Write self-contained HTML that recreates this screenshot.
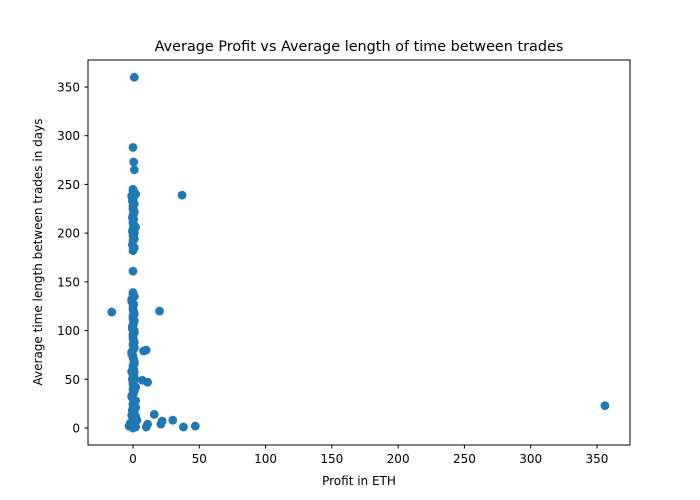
<!DOCTYPE html>
<html><head><meta charset="utf-8">
<style>
body{margin:0;background:#fff;}
svg{display:block;font-family:"DejaVu Sans","Liberation Sans",sans-serif;}
</style></head>
<body>
<svg id="chart" width="700" height="500" viewBox="0 0 700 500">
<rect width="700" height="500" fill="#fff"/>
<text x="359" y="51" font-size="14.4" text-anchor="middle">Average Profit vs Average length of time between trades</text>
<g id="marks"></g>
<rect x="88" y="60" width="542" height="385" fill="none" stroke="#000" stroke-width="1"/>
<g id="xticks"></g>
<g id="yticks"></g>
<text x="359" y="485" font-size="12" text-anchor="middle">Profit in ETH</text>
<text transform="translate(42,252) rotate(-90)" font-size="12" text-anchor="middle">Average time length between trades in days</text>
</svg>
<script>
const xTicks=[0,50,100,150,200,250,300,350];
const yTicks=[0,50,100,150,200,250,300,350];
const profit=[-16,20,37,8,10,11,7,16,22,21,30,11,10,38,47,356,-3,1,0,0.5,1,0,2,2,
 0,1,-1,0,1,0,0.5,-0.5,0,1,0,1,0.5,0,-0.5,1,0,
 0,1,-1,0,0.5,0,1,0,-0.5,1,0,0.5,0,1,-1,0,0.5,1,0,-1,0,1,0.5,0,2,1,0,-1,2,0,1,0,-0.5,1,2,0,3,-2,0,1,
 0,1,0,-1,0.5,0,1,0,0.5,-0.5,1,0,0,1,0.5,0,-1,0,1,0,0.5,1,0,-0.5,0,1,0,0.5,-1,0,1,0,2,1,0,-1,0,1,0.5,0,1,-1,2,
 0,1,0,0.5,-0.5,0,1,0,0.5,0,1,-0.5,0,1];
const days=[119,120,239,79,80,47,49,14,7,4,8,4,1,1,2,23,2,360,288,273,265,161,240,206,
 245,242,238,235,230,228,220,216,212,208,204,200,196,192,188,185,182,
 139,135,130,125,120,115,110,106,102,98,94,90,86,82,78,74,70,66,62,58,55,52,48,45,42,38,35,32,28,25,22,20,18,15,12,10,8,5,3,1,0,2,
 137,132,127,122,117,112,108,104,100,96,92,88,84,80,76,72,68,64,60,57,54,50,46,43,40,36,33,30,27,24,21,19,16,13,11,9,7,6,4,2,1,0,3,
 243,240,233,225,222,218,214,210,206,202,198,194,190,186];
const xs=v=>133+v*1.3257, ys=v=>428-v*0.9743;
const NS="http://www.w3.org/2000/svg";
const m=document.getElementById('marks');
const n=Math.min(profit.length,days.length);
for(let i=0;i<n;i++){
 const c=document.createElementNS(NS,'circle');
 c.setAttribute('cx',xs(profit[i]));c.setAttribute('cy',ys(days[i]));c.setAttribute('r',4.4);c.setAttribute('fill','#1f77b4');
 
 
 m.appendChild(c);
}
const gx=document.getElementById('xticks');
xTicks.forEach(t=>{
 const l=document.createElementNS(NS,'line');
 l.setAttribute('x1',xs(t));l.setAttribute('x2',xs(t));l.setAttribute('y1',445);l.setAttribute('y2',448.5);l.setAttribute('stroke','#000');
 
 
 gx.appendChild(l);
 const tx=document.createElementNS(NS,'text');
 tx.setAttribute('x',xs(t));tx.setAttribute('y',463);tx.setAttribute('font-size','12');tx.setAttribute('text-anchor','middle');tx.textContent=t;
 
 
 gx.appendChild(tx);
});
const gy=document.getElementById('yticks');
yTicks.forEach(t=>{
 const l=document.createElementNS(NS,'line');
 l.setAttribute('x1',84.5);l.setAttribute('x2',88);l.setAttribute('y1',ys(t));l.setAttribute('y2',ys(t));l.setAttribute('stroke','#000');
 
 
 gy.appendChild(l);
 const tx=document.createElementNS(NS,'text');
 tx.setAttribute('x',80);tx.setAttribute('y',ys(t)+4.5);tx.setAttribute('font-size','12');tx.setAttribute('text-anchor','end');tx.textContent=t;
 
 
 gy.appendChild(tx);
});
</script>
</body></html>
